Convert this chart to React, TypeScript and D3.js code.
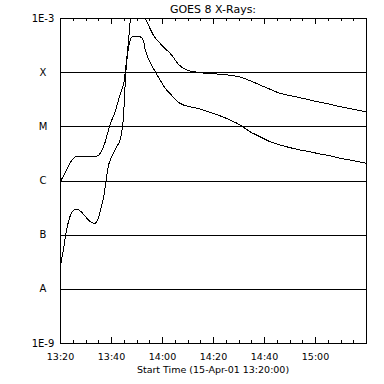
import React, { useRef, useEffect } from 'react';
import * as d3 from 'd3';

// minutes after 13:20 UT, 15-Apr-01
const longMinutes = [0, 2, 3.9, 5.9, 7.8, 11.8, 14.5, 16.1, 17.6, 18.8, 20, 21.6, 22.7, 23.9, 25.1, 26.2, 26.9, 27.5, 28, 30.5, 33.3, 36.6, 40.5, 43.8, 46.4, 49.7, 53.6, 57.5, 61.5, 65.4, 70.6, 74.5, 78.4, 82.4, 86.3, 90.2, 94.1, 98, 102, 105.9, 109.8, 113.7, 120];
const longFlux = [9.3e-7, 1.38e-6, 2.1e-6, 2.7e-6, 2.83e-6, 2.77e-6, 2.83e-6, 3.36e-6, 4.93e-6, 7.86e-6, 1.2e-5, 1.84e-5, 2.8e-5, 4.3e-5, 6.6e-5, 1.83e-4, 3.9e-4, 8.4e-4, 1.3e-3, 1.45e-3, 1.0e-3, 4.85e-4, 2.95e-4, 2.07e-4, 1.4e-4, 1.1e-4, 1.0e-4, 9.5e-5, 9.25e-5, 8.9e-5, 8.15e-5, 6.97e-5, 5.8e-5, 4.83e-5, 4.07e-5, 3.68e-5, 3.38e-5, 3.06e-5, 2.78e-5, 2.55e-5, 2.31e-5, 2.12e-5, 1.86e-5];

const shortMinutes = [0, 1.3, 2.6, 3.9, 6.2, 7.8, 9.8, 11.8, 13.7, 15, 16.4, 17.4, 18, 18.9, 20.3, 22.2, 23.5, 24.8, 25.8, 26.8, 27.8, 28.7, 31.4, 32.7, 33.3, 34.6, 36.6, 39.2, 41.8, 43.1, 45.8, 48.4, 51, 54.9, 58.8, 62.7, 66.7, 70.6, 74.5, 78.4, 82.4, 86.3, 90.2, 94.1, 98, 102, 105.9, 109.8, 113.7, 120];
const shortFlux = [2.43e-8, 5.2e-8, 1.22e-7, 2.15e-7, 2.98e-7, 2.77e-7, 2.21e-7, 1.74e-7, 1.62e-7, 2.0e-7, 3.53e-7, 5.8e-7, 9.5e-7, 1.8e-6, 2.75e-6, 4.2e-6, 5.6e-6, 1.31e-5, 9.5e-5, 2.76e-4, 4.2e-4, 4.65e-4, 4.5e-4, 3.85e-4, 2.76e-4, 1.8e-4, 1.18e-4, 7.2e-5, 4.7e-5, 4.07e-5, 2.94e-5, 2.48e-5, 2.3e-5, 2.09e-5, 1.82e-5, 1.57e-5, 1.31e-5, 1.06e-5, 7.96e-6, 6.44e-6, 5.2e-6, 4.53e-6, 4.04e-6, 3.66e-6, 3.4e-6, 3.08e-6, 2.87e-6, 2.57e-6, 2.39e-6, 2.08e-6];

const majorTickMinutes = [0, 20, 40, 60, 80, 100, 120];
const majorTickLabels = ['13:20', '13:40', '14:00', '14:20', '14:40', '15:00', ''];
const classLevels = [1e-3, 1e-4, 1e-5, 1e-6, 1e-7, 1e-8, 1e-9];
const classLabels = ['1E-3', 'X', 'M', 'C', 'B', 'A', '1E-9'];

const title = 'GOES 8 X-Rays:';
const xTitle = 'Start Time (15-Apr-01 13:20:00)';

const App = () => {
  const svgRef = useRef<SVGSVGElement>(null);
  const width = 384;
  const height = 384;
  const margin = { top: 18, right: 18, bottom: 41, left: 60 };

  useEffect(() => {
    const svg = d3.select(svgRef.current);
    svg.selectAll('*').remove();

    const font = "'DejaVu Sans', sans-serif";
    const x = d3.scaleLinear()
      .domain([0, 120])
      .range([margin.left, width - margin.right]);
    const y = d3.scaleLog()
      .domain([1e-9, 1e-3])
      .range([height - margin.bottom, margin.top]);

    svg.append('rect').attr('width', width).attr('height', height).attr('fill', '#fff');

    svg.append('clipPath').attr('id', 'plot-clip')
      .append('rect')
      .attr('x', margin.left)
      .attr('y', margin.top)
      .attr('width', width - margin.left - margin.right)
      .attr('height', height - margin.top - margin.bottom);

    // class grid lines
    svg.append('g')
      .selectAll('line')
      .data(classLevels.slice(1, -1))
      .join('line')
      .attr('x1', margin.left)
      .attr('x2', width - margin.right)
      .attr('y1', d => Math.round(y(d)) + 0.5)
      .attr('y2', d => Math.round(y(d)) + 0.5)
      .attr('stroke', '#000')
      .attr('shape-rendering', 'crispEdges');

    // y labels
    svg.append('g')
      .selectAll('text')
      .data(classLevels)
      .join('text')
      .attr('x', 43)
      .attr('y', d => y(d) + 3.5)
      .attr('text-anchor', 'middle')
      .attr('font-family', font)
      .attr('font-size', 10)
      .text((d, i) => classLabels[i]);

    // x axes, bottom and top, minor ticks every 5 min
    const minor = d3.range(0, 121, 5).filter(m => m % 20 !== 0);
    const bottom = svg.append('g')
      .attr('transform', `translate(0,${height - margin.bottom})`)
      .call(d3.axisTop(x).tickValues(majorTickMinutes).tickSize(6)
        .tickFormat(() => '').tickSizeOuter(0));
    bottom.append('g').call(d3.axisTop(x).tickValues(minor).tickSize(3).tickFormat(() => '').tickSizeOuter(0));
    const top = svg.append('g')
      .attr('transform', `translate(0,${margin.top})`)
      .call(d3.axisBottom(x).tickValues(majorTickMinutes).tickSize(6)
        .tickFormat(() => '').tickSizeOuter(0));
    top.append('g').call(d3.axisBottom(x).tickValues(minor).tickSize(3).tickFormat(() => '').tickSizeOuter(0));
    svg.selectAll('.domain').remove();
    svg.selectAll('.tick line').attr('stroke', '#000').attr('shape-rendering', 'crispEdges');

    // x tick labels
    svg.append('g')
      .attr('transform', `translate(0,${height - margin.bottom})`)
      .call(d3.axisBottom(x).tickValues(majorTickMinutes).tickSize(0).tickPadding(10)
        .tickFormat((d, i) => majorTickLabels[i]))
      .call(g => g.select('.domain').remove())
      .call(g => g.selectAll('text').attr('font-family', font).attr('font-size', 9.5).attr('fill', '#000'));

    // frame
    svg.append('rect')
      .attr('x', margin.left + 0.5)
      .attr('y', margin.top + 0.5)
      .attr('width', width - margin.left - margin.right)
      .attr('height', height - margin.top - margin.bottom)
      .attr('fill', 'none')
      .attr('stroke', '#000')
      .attr('shape-rendering', 'crispEdges');

    // flux curves (aliased like the original plot device)
    const line = d3.line<[number, number]>()
      .x(d => x(d[0]))
      .y(d => y(d[1]))
      .curve(d3.curveMonotoneX);
    const curves = [
      longMinutes.map((m, i) => [m, longFlux[i]] as [number, number]),
      shortMinutes.map((m, i) => [m, shortFlux[i]] as [number, number]),
    ];
    svg.append('g')
      .attr('clip-path', 'url(#plot-clip)')
      .selectAll('path')
      .data(curves)
      .join('path')
      .attr('d', d => line(d))
      .attr('fill', 'none')
      .attr('stroke', '#000')
      .attr('stroke-width', 1)
      .attr('shape-rendering', 'crispEdges');

    svg.append('text')
      .attr('x', (margin.left + width - margin.right) / 2)
      .attr('y', 13)
      .attr('text-anchor', 'middle')
      .attr('font-family', font)
      .attr('font-size', 11)
      .text(title);

    svg.append('text')
      .attr('x', (margin.left + width - margin.right) / 2)
      .attr('y', 373)
      .attr('text-anchor', 'middle')
      .attr('font-family', font)
      .attr('font-size', 9.5)
      .text(xTitle);
  }, []);

  return (
    <svg
      ref={svgRef}
      width={width}
      height={height}
      style={{ position: 'absolute', left: 0, top: 0, display: 'block' }}
    />
  );
};

export default App;
